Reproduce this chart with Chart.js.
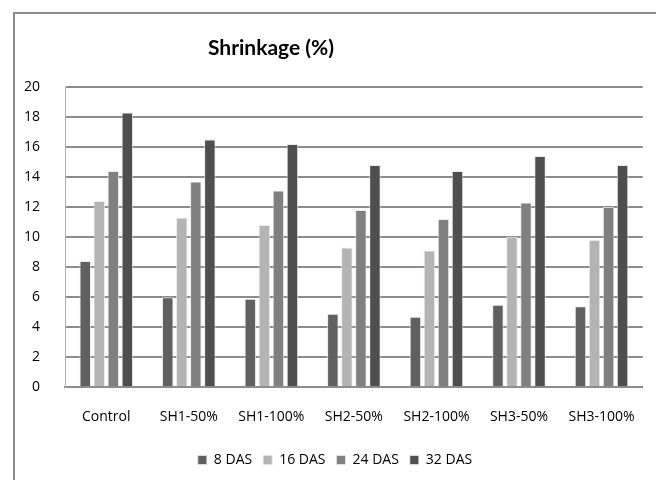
<!DOCTYPE html>
<html>
<head>
  <title>Shrinkage Chart</title>
  <script src="https://cdn.jsdelivr.net/npm/chart.js"></script>
  <style>
    body { margin: 0; background: #fff; }
    #wrap { width: 656px; height: 480px; }
  </style>
</head>
<body>
  <div id="wrap"><canvas id="shrinkChart" width="656" height="480"></canvas></div>

  <script>
    const categories = ['Control', 'SH1-50%', 'SH1-100%', 'SH2-50%', 'SH2-100%', 'SH3-50%', 'SH3-100%'];
    const das8  = [8.4, 6.0, 5.9, 4.9, 4.7, 5.5, 5.4];
    const das16 = [12.4, 11.3, 10.8, 9.3, 9.1, 10.0, 9.8];
    const das24 = [14.4, 13.7, 13.1, 11.8, 11.2, 12.3, 12.0];
    const das32 = [18.3, 16.5, 16.2, 14.8, 14.4, 15.4, 14.8];
    const seriesNames = ['8 DAS', '16 DAS', '24 DAS', '32 DAS'];

    const fontName = "'Open Sans', 'Liberation Sans', sans-serif";

    // frame + title drawn by hand (title sits left of centre in the original)
    const framePlugin = {
      id: 'frame',
      beforeDraw(chart) {
        const ctx = chart.ctx;
        ctx.save();
        ctx.strokeStyle = '#8c8c8c';
        ctx.lineWidth = 2;
        ctx.beginPath();
        ctx.moveTo(14, 480);
        ctx.lineTo(14, 13);
        ctx.lineTo(656, 13);
        ctx.stroke();
        ctx.restore();
      },
      afterDraw(chart) {
        const ctx = chart.ctx;
        ctx.save();
        ctx.fillStyle = '#000';
        ctx.font = "bold 21px Lato, " + fontName;
        ctx.textAlign = 'center';
        ctx.textBaseline = 'middle';
        ctx.fillText('Shrinkage (%)', 271, 48);
        ctx.restore();
      }
    };

    const colors = ['#606060', '#b4b4b4', '#808080', '#4f4f4f'];
    const allData = [das8, das16, das24, das32];

    new Chart(document.getElementById('shrinkChart').getContext('2d'), {
      type: 'bar',
      data: {
        labels: categories,
        datasets: seriesNames.map((name, i) => ({
          label: name,
          data: allData[i],
          backgroundColor: colors[i],
          borderColor: 'rgba(230,230,230,0.8)',
          borderWidth: 1,
          categoryPercentage: 0.68,
          barPercentage: 0.82
        }))
      },
      options: {
        responsive: false,
        animation: false,
        layout: { padding: { left: 20, right: 6, top: 87, bottom: 3 } },
        plugins: {
          title: { display: false },
          tooltip: { enabled: false },
          legend: {
            position: 'bottom',
            labels: {
              boxWidth: 9,
              boxHeight: 9,
              padding: 11,
              color: '#000',
              font: { family: fontName, size: 14 }
            }
          }
        },
        scales: {
          x: {
            afterFit(scale) { scale.height -= 4; },
            grid: { display: false, drawTicks: false },
            border: { color: '#8c8c8c', width: 2 },
            ticks: { color: '#000', padding: 21, font: { family: fontName, size: 14 }, maxRotation: 0 }
          },
          y: {
            min: 0,
            max: 20,
            afterFit(scale) { scale.width = 45; },
            ticks: { stepSize: 2, color: '#000', padding: 25, font: { family: fontName, size: 14 } },
            grid: { color: '#8c8c8c', lineWidth: 2, drawTicks: false },
            border: { color: '#b0b0b0', width: 1 }
          }
        }
      },
      plugins: [framePlugin]
    });
  </script>
</body>
</html>
